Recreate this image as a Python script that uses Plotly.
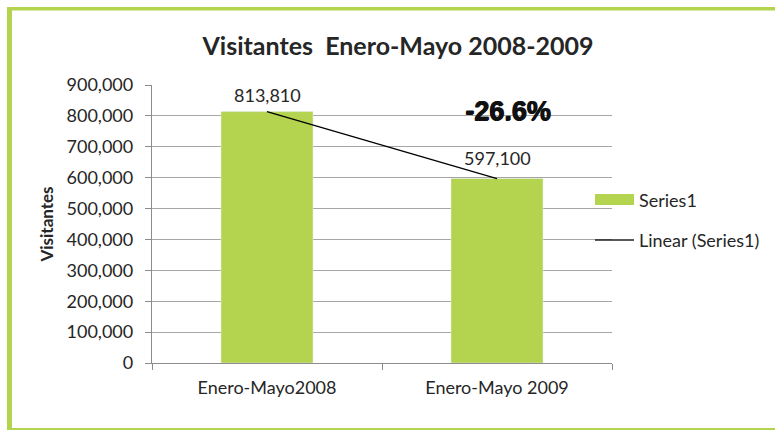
import plotly.graph_objects as go

categories = ["Enero-Mayo2008", "Enero-Mayo 2009"]
visitantes = [813810, 597100]
bar_labels = ["813,810", "597,100"]
label_lift = [17, 21]
change_label = "-26.6%"
title_text = "Visitantes  Enero-Mayo 2008-2009"
y_title = "Visitantes"
legend_bar = "Series1"
legend_line = "Linear (Series1)"

GREEN = "#B4D34F"
GRID = "#A6A6A6"
TXT = "#262626"
FONT = "Lato"

W, H = 775, 430
L, R, T, B = 152, 612, 85, 363

def px(X):
    return (X - L) / (R - L)

def py(Y):
    return (B - Y) / (B - T)

fig = go.Figure()
fig.add_trace(go.Bar(
    x=categories, y=visitantes, width=0.4, marker_color=GREEN,
    name=legend_bar, showlegend=False,
))
fig.add_trace(go.Scatter(
    x=categories, y=visitantes, mode="lines",
    line=dict(color="black", width=1.3), name=legend_line, showlegend=False,
))

shapes = []
# outer green frame
shapes.append(dict(type="line", xref="paper", yref="paper", x0=px(7), x1=px(775), y0=py(8.8), y1=py(8.8),
                   line=dict(color=GREEN, width=3.6)))
shapes.append(dict(type="line", xref="paper", yref="paper", x0=px(9.5), x1=px(9.5), y0=py(7), y1=py(430),
                   line=dict(color=GREEN, width=5)))
shapes.append(dict(type="line", xref="paper", yref="paper", x0=px(7), x1=px(775), y0=py(429), y1=py(429),
                   line=dict(color=GREEN, width=2)))
# legend swatches
shapes.append(dict(type="rect", xref="paper", yref="paper", x0=px(595), x1=px(634), y0=py(194), y1=py(205),
                   fillcolor=GREEN, line=dict(width=0)))
shapes.append(dict(type="line", xref="paper", yref="paper", x0=px(595), x1=px(634), y0=py(240), y1=py(240),
                   line=dict(color="#222222", width=1.3)))

annotations = []
for cat, val, lab, lift in zip(categories, visitantes, bar_labels, label_lift):
    annotations.append(dict(text=lab, x=cat, y=val, xref="x", yref="y", yshift=lift,
                            showarrow=False, xanchor="center", yanchor="middle",
                            font=dict(family=FONT, size=18, color=TXT)))
for dx, dy in [(0, 0), (0.8, 0), (0, 0.8)]:
    annotations.append(dict(text="<b>" + change_label + "</b>", xref="paper", yref="paper",
                            x=px(508 + dx), y=py(111 + dy), showarrow=False,
                            font=dict(family="Liberation Sans", size=27, color="#111111"),
                            xanchor="center", yanchor="middle"))
annotations += [
    dict(text=legend_bar, xref="paper", yref="paper", x=px(637), y=py(200), showarrow=False,
         font=dict(family=FONT, size=18, color=TXT), xanchor="left", yanchor="middle"),
    dict(text=legend_line, xref="paper", yref="paper", x=px(637), y=py(240), showarrow=False,
         font=dict(family=FONT, size=18, color=TXT), xanchor="left", yanchor="middle"),
]

fig.update_layout(
    width=W, height=H,
    margin=dict(l=L, r=W - R, t=T, b=H - B, pad=0),
    paper_bgcolor="white", plot_bgcolor="white",
    title=dict(text="<b>" + title_text + "</b>", x=px(398), xref="paper", xanchor="center",
               y=1 - 46 / H, yanchor="middle", font=dict(family=FONT, size=25, color=TXT)),
    font=dict(family=FONT, color=TXT),
    bargap=0.6,
    shapes=shapes, annotations=annotations,
    showlegend=False,
)
fig.update_xaxes(
    showline=True, linecolor="#8C8C8C", linewidth=1.3,
    ticks="outside", tickson="boundaries", ticklen=6, tickcolor="#8C8C8C",
    ticklabelstandoff=8,
    tickfont=dict(family=FONT, size=18, color=TXT), showgrid=False,
)
fig.update_yaxes(
    range=[0, 900000], dtick=100000, tickformat=",",
    showline=True, linecolor="#8C8C8C", linewidth=1.3,
    ticks="outside", ticklen=6, tickcolor="#8C8C8C",
    ticklabelstandoff=8,
    showgrid=True, gridcolor=GRID, gridwidth=1.3, zeroline=False,
    tickfont=dict(family=FONT, size=18, color=TXT),
    title=dict(text="<b>" + y_title + "</b>", font=dict(family=FONT, size=17, color=TXT), standoff=8),
)

fig.write_html("out.html", post_script="document.body.style.margin='0';",
               config={"displayModeBar": False})
